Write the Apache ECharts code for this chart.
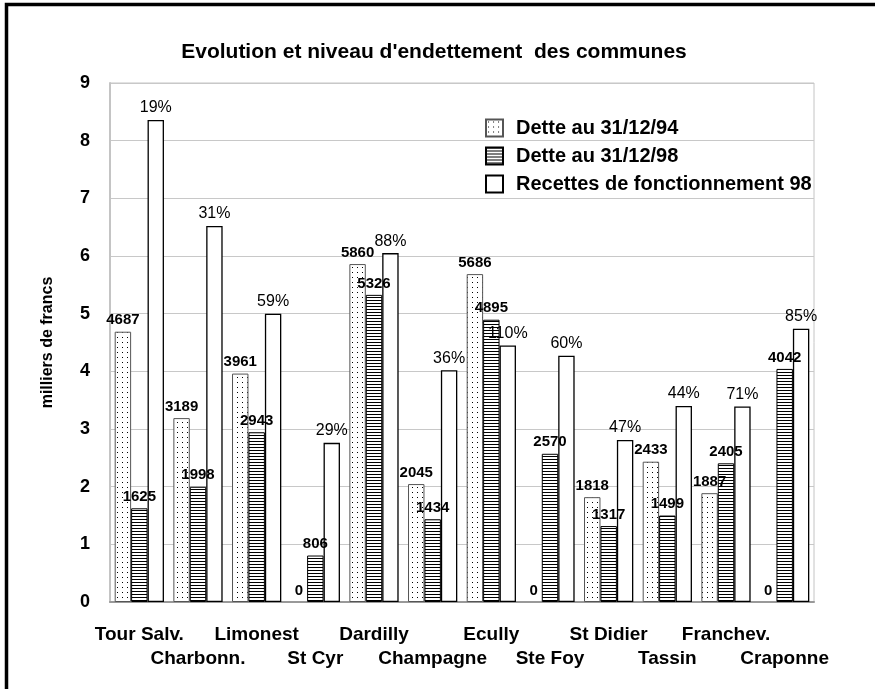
<!DOCTYPE html>
<html>
<head>
<meta charset="utf-8">
<script src="https://cdn.jsdelivr.net/npm/echarts@6/dist/echarts.min.js"></script>
<style>
  html, body { margin: 0; padding: 0; background: #fff; }
  #chart { width: 875px; height: 689px; }
</style>
</head>
<body>
<div id="chart"></div>
<script>
// données
const communes = ['Tour Salv.', 'Charbonn.', 'Limonest', 'St Cyr', 'Dardilly', 'Champagne',
  'Ecully', 'Ste Foy', 'St Didier', 'Tassin', 'Franchev.', 'Craponne']
const dette94 = [4687, 3189, 3961, 0, 5860, 2045, 5686, 0, 1818, 2433, 1887, 0]
const dette98 = [1625, 1998, 2943, 806, 5326, 1434, 4895, 2570, 1317, 1499, 2405, 4042]
const recettes98 = [8.36, 6.52, 5.00, 2.76, 6.05, 4.02, 4.45, 4.27, 2.81, 3.40, 3.39, 4.74]
const ratios = ['19%', '31%', '59%', '29%', '88%', '36%', '110%', '60%', '47%', '44%', '71%', '85%']
const seriesNames = ['Dette au 31/12/94', 'Dette au 31/12/98', 'Recettes de fonctionnement 98']

const font = "'Liberation Sans', Arial, sans-serif"

// motifs de remplissage
function dots() {
  const c = document.createElement('canvas')
  c.width = 5; c.height = 5
  const ctx = c.getContext('2d')
  ctx.fillStyle = '#fff'
  ctx.fillRect(0, 0, 5, 5)
  ctx.fillStyle = '#000'
  ctx.fillRect(2, 2, 1, 1)
  return c
}
function stripes() {
  const c = document.createElement('canvas')
  c.width = 4; c.height = 3
  const ctx = c.getContext('2d')
  ctx.fillStyle = '#fff'
  ctx.fillRect(0, 0, 4, 3)
  ctx.fillStyle = '#000'
  ctx.fillRect(0, 0, 4, 1)
  return c
}

const chart = echarts.init(document.getElementById('chart'), null, { renderer: 'canvas' })

const debtLabel = arr => ({
  show: true,
  position: 'top',
  distance: 4,
  color: '#000',
  fontFamily: font,
  fontWeight: 'bold',
  fontSize: 15,
  formatter: p => String(arr[p.dataIndex])
})

// une barre nulle n'a pas de contour
const debtData = arr => arr.map(v => (v === 0
  ? { value: 0, itemStyle: { borderWidth: 0 } }
  : v / 1000))

chart.setOption({
  animation: false,
  backgroundColor: '#fff',
  textStyle: { fontFamily: font },
  title: {
    text: "Evolution et niveau d'endettement  des communes",
    left: 434,
    textAlign: 'center',
    top: 42,
    padding: 0,
    textStyle: { fontFamily: font, fontSize: 21, fontWeight: 'bold', color: '#000' }
  },
  legend: {
    orient: 'vertical',
    left: 485,
    top: 118,
    padding: 0,
    icon: 'rect',
    itemWidth: 17,
    itemHeight: 17,
    itemGap: 8,
    data: seriesNames,
    textStyle: { fontFamily: font, fontSize: 20, fontWeight: 'bold', color: '#000', padding: [0, 0, 0, 8] }
  },
  grid: {
    left: 110,
    right: 61,
    top: 83,
    bottom: 87,
    show: true,
    borderColor: '#c4c4c4',
    borderWidth: 1
  },
  xAxis: {
    type: 'category',
    data: communes,
    axisTick: { show: false },
    axisLine: { lineStyle: { color: '#999', width: 2 } },
    axisLabel: {
      interval: 0,
      margin: 21,
      lineHeight: 24,
      color: '#000',
      fontFamily: font,
      fontSize: 19,
      fontWeight: 'bold',
      formatter: (v, i) => (i % 2 ? '\n' + v : v)
    }
  },
  yAxis: {
    type: 'value',
    min: 0,
    max: 9,
    interval: 1,
    name: 'milliers de francs',
    nameLocation: 'middle',
    nameRotate: 90,
    nameGap: 54,
    nameTextStyle: { fontFamily: font, fontSize: 16, fontWeight: 'bold', color: '#000' },
    axisLine: { show: true, lineStyle: { color: '#c4c4c4', width: 2 } },
    axisTick: { show: false },
    splitLine: { lineStyle: { color: '#c8c8c8', width: 1 } },
    axisLabel: { margin: 20, color: '#000', fontFamily: font, fontSize: 18, fontWeight: 'bold' }
  },
  series: [
    {
      name: seriesNames[0],
      type: 'bar',
      barGap: '0%',
      barCategoryGap: '16%',
      data: debtData(dette94),
      itemStyle: { color: { image: dots(), repeat: 'repeat' }, borderColor: '#555', borderWidth: 1 },
      label: debtLabel(dette94)
    },
    {
      name: seriesNames[1],
      type: 'bar',
      barGap: '0%',
      barCategoryGap: '16%',
      data: debtData(dette98),
      itemStyle: { color: { image: stripes(), repeat: 'repeat' }, borderColor: '#000', borderWidth: 1 },
      label: debtLabel(dette98)
    },
    {
      name: seriesNames[2],
      type: 'bar',
      barGap: '0%',
      barCategoryGap: '16%',
      data: recettes98,
      itemStyle: { color: '#fff', borderColor: '#000', borderWidth: 1.3 },
      label: {
        show: true,
        position: 'top',
        distance: 4,
        color: '#000',
        fontFamily: font,
        fontSize: 16,
        formatter: p => ratios[p.dataIndex]
      }
    }
  ],
  graphic: [
    {
      type: 'rect',
      silent: true,
      shape: { x: 6.5, y: 4.5, width: 900, height: 720 },
      style: { fill: 'none', stroke: '#000', lineWidth: 3.5 }
    }
  ]
})
</script>
</body>
</html>
